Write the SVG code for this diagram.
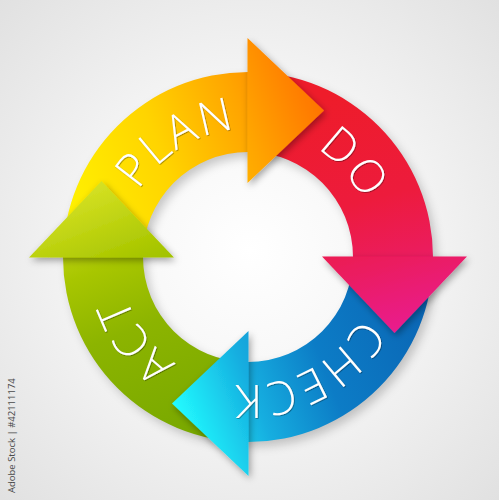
<svg xmlns="http://www.w3.org/2000/svg" width="499" height="500" viewBox="0 0 499 500">
  <defs>
    <radialGradient id="bg" cx="250" cy="250" r="380" gradientUnits="userSpaceOnUse">
      <stop offset="0" stop-color="#ffffff"/>
      <stop offset="0.45" stop-color="#f4f4f4"/>
      <stop offset="1" stop-color="#dedede"/>
    </radialGradient>
    <linearGradient id="gPlan" gradientUnits="userSpaceOnUse" x1="63" y1="210" x2="324" y2="110">
      <stop offset="0" stop-color="#fff300"/>
      <stop offset="0.4" stop-color="#ffd400"/>
      <stop offset="0.72" stop-color="#ffa500"/>
      <stop offset="1" stop-color="#ff7400"/>
    </linearGradient>
    <linearGradient id="gDo" gradientUnits="userSpaceOnUse" x1="330" y1="95" x2="394" y2="333">
      <stop offset="0" stop-color="#ee1c2a"/>
      <stop offset="0.45" stop-color="#ed1b3c"/>
      <stop offset="0.7" stop-color="#eb1c5c"/>
      <stop offset="1" stop-color="#e91f8e"/>
    </linearGradient>
    <linearGradient id="gCheck" gradientUnits="userSpaceOnUse" x1="433" y1="300" x2="172" y2="403">
      <stop offset="0" stop-color="#0a64b3"/>
      <stop offset="0.45" stop-color="#0c7cc6"/>
      <stop offset="0.72" stop-color="#16aee0"/>
      <stop offset="1" stop-color="#22fcff"/>
    </linearGradient>
    <linearGradient id="gAct" gradientUnits="userSpaceOnUse" x1="200" y1="435" x2="101" y2="181">
      <stop offset="0" stop-color="#78a800"/>
      <stop offset="0.45" stop-color="#8cb400"/>
      <stop offset="0.7" stop-color="#a8c600"/>
      <stop offset="1" stop-color="#d6e124"/>
    </linearGradient>
    <filter id="ringShadow" x="-20%" y="-20%" width="140%" height="140%">
      <feGaussianBlur stdDeviation="5"/>
    </filter>
    <filter id="headShadow" x="-30%" y="-30%" width="160%" height="160%">
      <feDropShadow dx="2" dy="3" stdDeviation="3.5" flood-color="#000" flood-opacity="0.35"/>
    </filter>
    <filter id="textShadow" x="-10%" y="-10%" width="120%" height="120%">
      <feDropShadow dx="0.7" dy="0.7" stdDeviation="0.6" flood-color="#000" flood-opacity="0.45"/>
    </filter>
    <path id="labelArc" d="M376,257 A128,128 0 1 1 120,257 A128,128 0 1 1 376,257"/>
    <style>
      .label { font-family: "Open Sans", "Liberation Sans", sans-serif; font-weight: 300; font-size: 46px; fill: #ffffff; letter-spacing: 2px; filter: url(#textShadow); }
      .credit { font-family: "Open Sans", "Liberation Sans", sans-serif; font-size: 9.5px; fill: #4a4a4a; }
      .head { filter: url(#headShadow); }
    </style>
  </defs>

  <rect x="0" y="0" width="499" height="500" fill="url(#bg)"/>

  <!-- soft shadow of the ring -->
  <path d="M437,262 A185,185 0 1 1 67,262 A185,185 0 1 1 437,262 Z M357,262 A105,105 0 1 0 147,262 A105,105 0 1 0 357,262 Z" fill="#000" fill-opacity="0.2" fill-rule="evenodd" filter="url(#ringShadow)"/>

  <g id="ring-segments">
    <g id="plan-body"><path d="M63,257 A185,185 0 0 1 248,72 L248,152 A105,105 0 0 0 143,257 Z" fill="url(#gPlan)"/></g>
    <g id="do-body"><path d="M248,72 A185,185 0 0 1 433,257 L353,257 A105,105 0 0 0 248,152 Z" fill="url(#gDo)"/></g>
    <g id="check-body"><path d="M433,257 A185,185 0 0 1 248,442 L248,362 A105,105 0 0 0 353,257 Z" fill="url(#gCheck)"/></g>
    <g id="act-body"><path d="M248,442 A185,185 0 0 1 63,257 L143,257 A105,105 0 0 0 248,362 Z" fill="url(#gAct)"/></g>
  </g>

  <g id="arrowheads">
    <g id="plan-head"><path class="head" d="M247.5,38 L324,110.5 L247.5,183 Z" fill="url(#gPlan)"/></g>
    <g id="do-head"><path class="head" d="M467,256.5 L394.5,333 L322,256.5 Z" fill="url(#gDo)"/></g>
    <g id="check-head"><path class="head" d="M248.5,476 L172,403.5 L248.5,331 Z" fill="url(#gCheck)"/></g>
    <g id="act-head"><path class="head" d="M29,257.5 L101.5,181 L174,257.5 Z" fill="url(#gAct)"/></g>
  </g>

  <g id="labels">
    <text class="label" text-anchor="middle"><textPath href="#labelArc" startOffset="531.7">PLAN</textPath></text>
    <text class="label" text-anchor="middle"><textPath href="#labelArc" startOffset="711.3">DO</textPath></text>
    <text class="label" text-anchor="middle"><textPath href="#labelArc" startOffset="139.2">CHECK</textPath></text>
    <text class="label" text-anchor="middle"><textPath href="#labelArc" startOffset="320.2">ACT</textPath></text>
  </g>

  <text class="credit" transform="translate(15,493) rotate(-90)">Adobe Stock | #42111174</text>
</svg>
